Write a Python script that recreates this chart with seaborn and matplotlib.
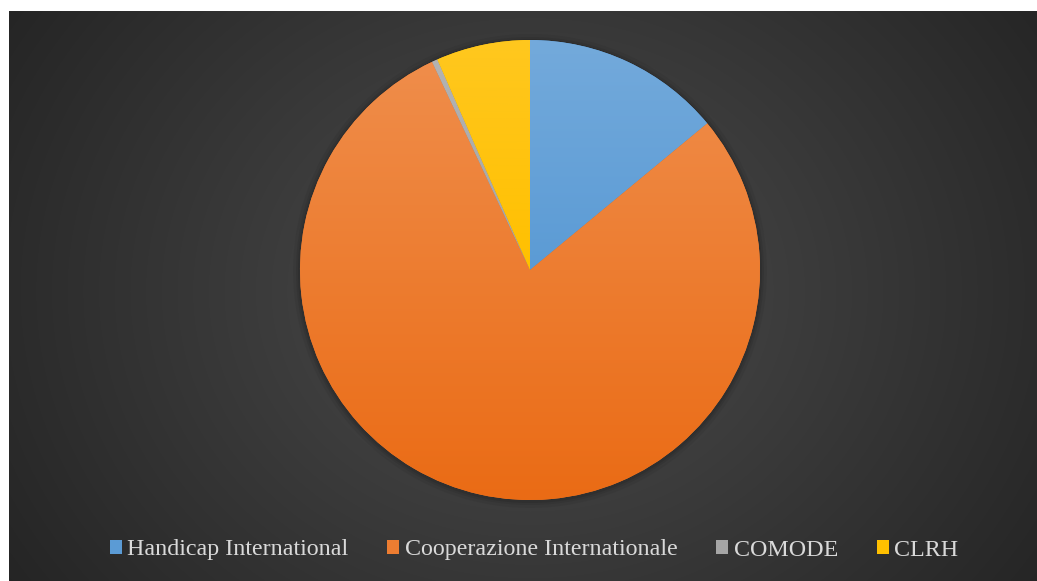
import colorsys
import numpy as np
import matplotlib
matplotlib.use("Agg")
import matplotlib.pyplot as plt
import matplotlib.colors as mcolors
from matplotlib.patches import Circle
import seaborn as sns

# Share of each organisation
organisations = ["Handicap International", "Cooperazione Internationale", "COMODE", "CLRH"]
shares = [14.0, 79.0, 0.4, 6.6]
palette = ["#5b9bd5", "#ed7d31", "#a5a5a5", "#ffc000"]

sns.set_theme(style="white")
plt.rcParams["font.family"] = ["Liberation Serif", "DejaVu Serif"]

W, H = 1037, 581
fig = plt.figure(figsize=(W / 100, H / 100), dpi=100)
fig.patch.set_facecolor("white")

# Dark panel with a soft radial glow behind the pie
bg = fig.add_axes([9 / W, 0, (W - 9) / W, (H - 11) / H])
bg.set_axis_off()
yy, xx = np.mgrid[0:570, 0:1028]
cx, cy = 521, 280
d = np.sqrt(((xx - cx) / 1.0) ** 2 + ((yy - cy) / 0.85) ** 2) / 600
lev = np.clip(0.30 - 0.15 * d, 0.14, 0.30)
bg.imshow(np.dstack([lev, lev, lev]), aspect="auto", extent=[0, 1, 0, 1], origin="upper")
bg.set_xlim(0, 1)
bg.set_ylim(0, 1)

# Pie axes in pixel units
ax = fig.add_axes([0, 0, 1, 1])
ax.patch.set_alpha(0)
pcx, pcy, r = 530, H - 270, 230

# faint shadow ring
for k, a in zip([7, 4, 2], [0.05, 0.07, 0.09]):
    ax.add_patch(Circle((pcx, pcy - 1), r + k, color="black", alpha=a, lw=0, zorder=0))

wedges, _ = ax.pie(shares, colors=palette, startangle=90, counterclock=False,
                   center=(pcx, pcy), radius=r, frame=True,
                   wedgeprops=dict(linewidth=0))


def shade(color, n=256, up=0.06, down=0.06):
    """Vertical gradient keeping hue and saturation, lighter at the top."""
    h, l, s = colorsys.rgb_to_hls(*mcolors.to_rgb(color))
    rows = [colorsys.hls_to_rgb(h, np.clip(lv, 0, 1), s)
            for lv in np.linspace(l + up, l - down, n)]
    return np.repeat(np.array(rows)[:, None, :], 2, axis=1)


for w, c in zip(wedges, palette):
    im = ax.imshow(shade(c), extent=[pcx - r, pcx + r, pcy - r, pcy + r],
                   origin="upper", aspect="auto", zorder=2, interpolation="bilinear")
    im.set_clip_path(w)

ax.set_xlim(0, W)
ax.set_ylim(0, H)
ax.set_aspect("equal")
ax.set_axis_off()

leg = ax.legend(wedges, organisations, loc="center", bbox_to_anchor=(534 / W, (H - 550) / H),
                ncol=4, frameon=False, fontsize=17.3, handlelength=0.5, handleheight=0.5,
                handletextpad=0.22, columnspacing=1.62, borderaxespad=0)
for txt in leg.get_texts():
    txt.set_color("#d9d9d9")

fig.savefig("out.png", dpi=100, facecolor=fig.get_facecolor())
